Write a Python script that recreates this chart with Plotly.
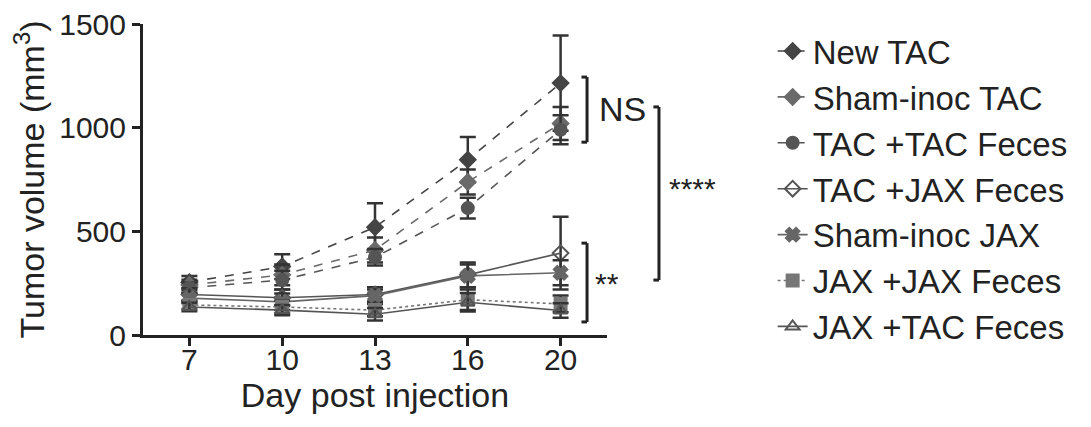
import plotly.graph_objects as go

days = ["7", "10", "13", "16", "20"]
series_names = ["New TAC", "Sham-inoc TAC", "TAC +TAC Feces", "TAC +JAX Feces",
                "Sham-inoc JAX", "JAX +JAX Feces", "JAX +TAC Feces"]
new_tac = [255, 330, 520, 845, 1215]
new_tac_err = [30, 60, 115, 110, 230]
sham_tac = [241, 290, 410, 738, 1020]
sham_tac_err = [25, 50, 60, 60, 80]
tac_tac = [228, 265, 375, 612, 990]
tac_tac_err = [25, 45, 40, 50, 70]
tac_jax = [195, 180, 195, 290, 395]
tac_jax_err = [30, 40, 35, 60, 175]
sham_jax = [178, 160, 190, 285, 300]
sham_jax_err = [25, 40, 30, 55, 60]
jax_jax = [145, 135, 120, 170, 150]
jax_jax_err = [20, 30, 30, 50, 40]
jax_tac = [135, 120, 100, 158, 118]
jax_tac_err = [20, 25, 30, 45, 35]

values = [new_tac, sham_tac, tac_tac, tac_jax, sham_jax, jax_jax, jax_tac]
errors = [new_tac_err, sham_tac_err, tac_tac_err, tac_jax_err, sham_jax_err, jax_jax_err, jax_tac_err]
symbols = ["diamond", "diamond", "circle", "diamond-open", "x", "square", "triangle-up-open"]
dashes = ["dash", "dash", "dash", "solid", "solid", "dot", "solid"]
colors = ["#444444", "#6a6a6a", "#555555", "#555555", "#666666", "#777777", "#555555"]

fig = go.Figure()
for i, (name, v, e) in enumerate(zip(series_names, values, errors)):
    fig.add_trace(go.Scatter(
        x=days, y=v, name=name, mode="lines+markers",
        legendgroup=f"g{i}",
        line=dict(color=colors[i], width=1.6, dash=dashes[i]),
        marker=dict(symbol=symbols[i], size=12, color=colors[i],
                    line=dict(color=colors[i], width=2)),
        error_y=dict(type="data", array=e, visible=True, color="#333333",
                     thickness=2.5, width=8),
    ))

font = "Liberation Sans, Arial, sans-serif"

# significance brackets
def bracket(x, y0, y1):
    fig.add_shape(type="line", xref="paper", yref="y", x0=x, x1=x, y0=y0, y1=y1,
                  line=dict(color="#222222", width=3))
    for yy in (y0, y1):
        fig.add_shape(type="line", xref="paper", yref="y", x0=x - 0.012, x1=x, y0=yy, y1=yy,
                      line=dict(color="#222222", width=3))

bracket(0.957, 1244, 930)
bracket(0.957, 443, 63)
bracket(1.112, 1100, 265)

fig.add_annotation(x=0.978, y=1090, xref="paper", yref="y", text="NS", showarrow=False,
                   xanchor="left", font=dict(size=34, color="#222222", family=font))
fig.add_annotation(x=0.970, y=265, xref="paper", yref="y", text="**", showarrow=False,
                   xanchor="left", yshift=-3, font=dict(size=30, color="#222222", family=font))
fig.add_annotation(x=1.129, y=738, xref="paper", yref="y", text="****", showarrow=False,
                   xanchor="left", yshift=-7, font=dict(size=30, color="#222222", family=font))

fig.update_layout(
    width=1083, height=419,
    margin=dict(l=135, r=484, t=16, b=92, autoexpand=False),
    paper_bgcolor="white", plot_bgcolor="white",
    font=dict(family=font, size=30, color="#222222"),
    showlegend=True,
    legend=dict(x=1.357, y=1.003, xanchor="left", yanchor="top",
                font=dict(size=33, family=font, color="#222222"),
                tracegroupgap=0, itemwidth=30, bgcolor="rgba(0,0,0,0)",
                maxheight=420),
    xaxis=dict(type="category", range=[-0.5, 4.5], showline=True, linecolor="#222222",
               linewidth=3, ticks="outside", ticklen=8, tickwidth=3, tickcolor="#222222",
               showgrid=False, zeroline=False, automargin=False, ticklabelstandoff=-12,
               ticklabeloverflow="allow",
               title=dict(text="Day post injection", font=dict(size=34), standoff=3),
               tickfont=dict(size=30)),
    yaxis=dict(range=[0, 1500], tickvals=[0, 500, 1000, 1500], showline=True,
               linecolor="#222222", linewidth=3, ticks="outside", ticklen=8, tickwidth=3,
               tickcolor="#222222", showgrid=False, zeroline=False, automargin=False,
               ticklabelstandoff=0, ticklabeloverflow="allow",
               title=dict(text="Tumor volume (mm<sup>3</sup>)", font=dict(size=34), standoff=5),
               tickfont=dict(size=30)),
)

fig.write_html("out.html")
